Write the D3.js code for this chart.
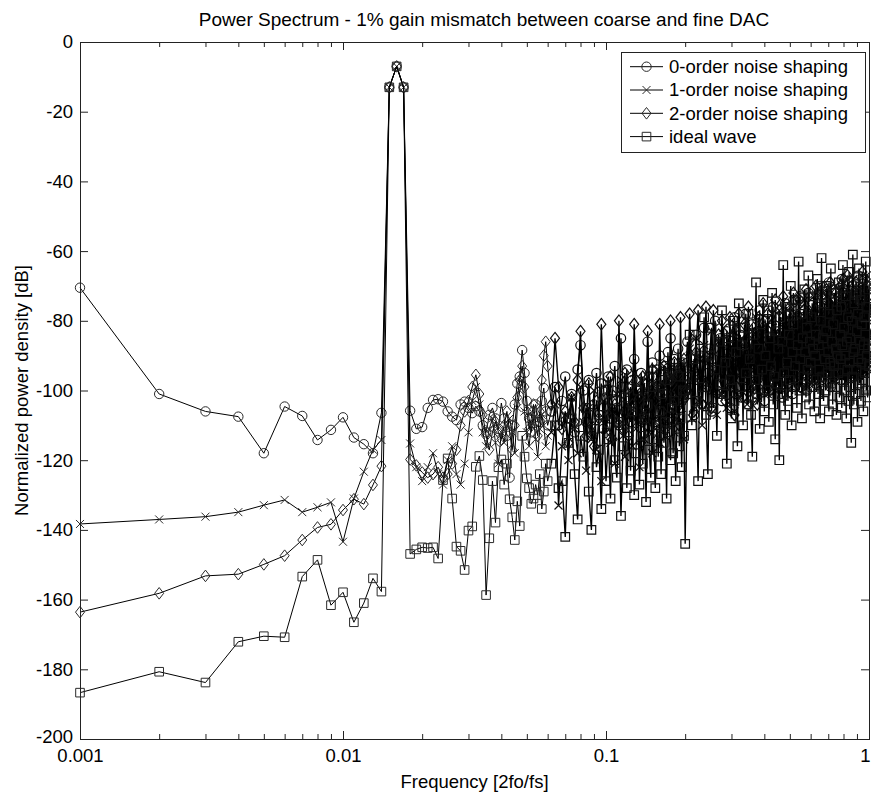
<!DOCTYPE html>
<html>
<head>
<meta charset="utf-8">
<script src="https://cdn.jsdelivr.net/npm/d3@7"></script>
<style>
body { margin: 0; background: #fff; }
svg text { font-family: "Liberation Sans", Arial, sans-serif; fill: #000; }
</style>
</head>
<body>
<svg id="chart" width="871" height="796"></svg>
<script>
// FFT bins (1 bin = 0.001 of fs/2): every bin at the low end, sparser where the plot is a solid band
const binsLow = d3.range(1, 61);
const binsMid = d3.range(62, 201, 2);
const binsHigh = d3.range(204, 1001, 4);

// 0-order noise shaping (circles)
const order0Low = [-70.5,-101,-106,-107.5,-118,-104.6,-107.3,-114.2,-111.3,-107.7,
  -113.5,-115.4,-118,-106.4,-13,-7,-13,-105.8,-111,-110.5,
  -105,-102.7,-102.5,-103.2,-106,-107.5,-108.5,-104,-103.2,-105,
  -106.5,-104.5,-106,-110,-112,-107,-105,-108,-111,-103.6,
  -108,-113,-125,-110,-104,-98,-96,-88.4,-95,-103,
  -108,-112,-106,-104,-109,-109,-103,-99.3,-106,-110];
const order0Mid = [-106,-99,-110,-103,-96,-108,-101,-112,-94,-87,
  -100,-109,-97,-113,-104,-95,-107,-98,-111,-102,
  -96,-108,-100,-93,-105,-110,-85,-99,-106,-94,
  -103,-109,-97,-91,-104,-100,-108,-95,-102,-98,
  -107,-86,-96,-104,-92,-101,-109,-94,-99,-90,
  -103,-97,-106,-93,-100,-89,-98,-85,-104,-95,
  -91,-101,-96,-88,-105,-94,-99,-92,-102,-97];
const order0High = [-86,-101,-93,-107,-84,-97,-90,-104,-82,-99,
  -95,-88,-106,-91,-80,-100,-94,-85,-103,-89,
  -98,-83,-92,-105,-87,-96,-79,-101,-90,-94,
  -84,-102,-89,-97,-78,-93,-104,-86,-99,-81,
  -95,-88,-101,-83,-92,-77,-98,-90,-85,-103,
  -80,-96,-87,-93,-100,-82,-89,-76,-97,-91,
  -99,-84,-92,-79,-95,-87,-102,-81,-90,-75,
  -93,-86,-98,-78,-89,-96,-83,-101,-74,-91,
  -85,-97,-80,-92,-88,-73,-99,-84,-94,-79,
  -90,-77,-95,-86,-100,-82,-72,-93,-88,-81,
  -96,-79,-87,-91,-71,-98,-84,-89,-76,-94,
  -83,-92,-70,-88,-97,-80,-86,-93,-75,-90,
  -87,-74,-95,-81,-89,-69,-92,-85,-99,-78,
  -91,-82,-76,-96,-84,-88,-71,-93,-80,-86,
  -73,-90,-85,-79,-97,-83,-68,-91,-87,-77,
  -94,-81,-88,-72,-86,-95,-78,-84,-69,-92,
  -80,-89,-75,-93,-83,-70,-90,-86,-96,-77,
  -85,-71,-92,-82,-88,-76,-94,-67,-87,-81,
  -90,-78,-84,-95,-72,-86,-80,-93,-74,-89,
  -68,-88,-83,-76,-94,-79,-85,-70,-91,-82];

// 1-order noise shaping (crosses)
const order1Low = [-138.3,-137,-136.2,-134.9,-132.9,-131.4,-134.9,-133.5,-132.1,-143.4,
  -131,-123.3,-117,-114.2,-13,-7,-13,-115.2,-122,-126,
  -122,-118,-124,-127,-120,-116,-124,-127,-121,-112,
  -103,-99,-104,-112,-116,-111,-108,-115,-121,-112,
  -115,-110,-108,-112,-118,-105,-100,-97,-106,-112,
  -116,-110,-108,-114,-119,-111,-107,-110,-116,-113];
const order1Mid = [-112,-104,-133,-116,-107,-120,-102,-111,-118,-99,
  -109,-123,-105,-114,-100,-117,-108,-126,-103,-112,
  -98,-115,-106,-121,-101,-110,-97,-113,-119,-104,
  -108,-100,-116,-95,-111,-105,-122,-99,-107,-114,
  -102,-96,-112,-106,-118,-98,-109,-103,-94,-115,
  -100,-108,-93,-113,-104,-97,-110,-101,-96,-107,
  -112,-95,-103,-99,-109,-92,-105,-98,-114,-100];
const order1High = [-99,-88,-108,-94,-85,-103,-91,-110,-87,-97,
  -104,-90,-83,-100,-95,-107,-86,-93,-101,-82,
  -96,-105,-89,-84,-99,-92,-106,-81,-94,-88,
  -102,-85,-97,-91,-80,-104,-93,-87,-100,-83,
  -90,-98,-79,-95,-103,-86,-92,-82,-99,-88,
  -94,-81,-101,-89,-85,-97,-78,-93,-87,-100,
  -83,-96,-88,-77,-92,-99,-84,-90,-80,-95,
  -101,-86,-79,-94,-89,-76,-97,-83,-92,-88,
  -78,-93,-87,-98,-75,-90,-84,-96,-81,-89,
  -95,-82,-74,-91,-86,-99,-79,-88,-93,-77,
  -85,-97,-81,-73,-92,-87,-95,-78,-90,-83,
  -91,-76,-88,-94,-80,-72,-96,-84,-89,-79,
  -82,-93,-86,-71,-90,-78,-95,-83,-74,-92,
  -88,-75,-97,-84,-80,-91,-70,-87,-94,-79,
  -92,-83,-77,-89,-96,-73,-86,-81,-90,-69,
  -84,-95,-80,-88,-71,-93,-78,-85,-91,-76,
  -89,-72,-94,-82,-87,-79,-92,-68,-86,-83,
  -77,-90,-85,-74,-95,-81,-88,-71,-93,-80,
  -86,-94,-70,-89,-79,-84,-91,-75,-87,-82,
  -93,-73,-88,-80,-67,-90,-78,-86,-84,-76];

// 2-order noise shaping (diamonds)
const order2Low = [-163.6,-158.2,-153.2,-152.7,-149.9,-147.4,-142.9,-139.3,-138.4,-134.3,
  -131.2,-132.6,-127.1,-121.7,-13,-7,-13,-119.8,-121.5,-123.5,
  -125,-124,-122,-125,-124,-121,-117,-110,-106,-103,
  -99,-95.5,-101,-107,-113,-117,-112,-109,-112,-114,
  -110,-106,-112,-117,-110,-102,-97,-93,-99,-106,
  -111,-108,-104,-109,-113,-106,-97,-90,-86,-93];
const order2Mid = [-104,-85,-99,-111,-106,-115,-102,-109,-97,-83,
  -105,-113,-98,-110,-116,-103,-108,-81,-100,-112,
  -107,-96,-114,-104,-109,-80,-101,-111,-95,-106,
  -113,-99,-104,-81,-97,-108,-102,-115,-96,-105,
  -110,-83,-100,-107,-94,-112,-103,-98,-109,-81,
  -99,-106,-93,-111,-101,-96,-108,-80,-97,-104,
  -92,-107,-100,-95,-110,-79,-98,-103,-91,-101];
const order2High = [-100,-78,-94,-106,-89,-77,-97,-104,-91,-76,
  -99,-92,-105,-77,-88,-101,-84,-96,-80,-93,
  -103,-86,-95,-79,-99,-90,-107,-83,-92,-78,
  -97,-88,-102,-81,-94,-85,-76,-100,-89,-93,
  -82,-98,-87,-104,-79,-91,-96,-84,-75,-95,
  -89,-100,-78,-92,-86,-97,-81,-90,-94,-74,
  -96,-85,-91,-77,-99,-83,-88,-73,-93,-87,
  -80,-94,-86,-98,-76,-90,-84,-92,-72,-97,
  -88,-79,-95,-83,-91,-74,-99,-86,-81,-93,
  -77,-92,-85,-71,-96,-82,-89,-78,-94,-87,
  -91,-75,-88,-97,-80,-86,-70,-93,-84,-79,
  -85,-94,-78,-90,-73,-96,-82,-88,-76,-92,
  -89,-71,-93,-84,-79,-95,-86,-69,-91,-81,
  -74,-88,-83,-96,-77,-90,-72,-85,-94,-80,
  -92,-79,-87,-70,-93,-82,-89,-76,-84,-68,
  -86,-95,-73,-88,-81,-91,-67,-94,-78,-85,
  -90,-76,-84,-92,-71,-87,-80,-95,-74,-89,
  -82,-93,-69,-86,-79,-91,-75,-88,-83,-72,
  -94,-80,-87,-74,-90,-66,-85,-92,-77,-88,
  -81,-89,-72,-93,-78,-84,-70,-91,-86,-75];

// ideal wave (squares)
const idealLow = [-186.7,-180.7,-183.8,-172.1,-170.5,-170.8,-153.4,-148.6,-161.6,-157.9,
  -166.5,-161,-153.9,-157.7,-13,-7,-13,-146.9,-145.6,-145,
  -145.2,-145,-148.2,-125.7,-119.5,-131,-144.8,-146,-151.5,-140.2,
  -139,-121.9,-118.8,-125.7,-158.7,-142.4,-126,-137.9,-122,-119.8,
  -127,-121,-131.2,-136.4,-142.9,-131.8,-138.9,-113,-119,-125.2,
  -128,-132.5,-131,-127,-130,-124,-134,-129,-121,-126];
const idealMid = [-121,-110,-128,-126,-142,-115,-108,-124,-137,-113,
  -119,-105,-129,-140,-111,-122,-117,-134,-107,-126,
  -114,-131,-103,-120,-125,-109,-136,-116,-102,-128,
  -112,-123,-106,-130,-118,-100,-127,-113,-121,-108,
  -132,-104,-117,-125,-99,-114,-128,-110,-119,-106,
  -124,-101,-115,-109,-131,-97,-112,-120,-105,-118,
  -103,-126,-111,-96,-116,-108,-122,-100,-113,-144];
const idealHigh = [-96,-84,-110,-91,-103,-126,-88,-99,-79,-107,
  -124,-90,-82,-105,-94,-113,-86,-98,-77,-101,
  -92,-121,-85,-97,-108,-80,-103,-89,-116,-75,
  -99,-87,-110,-82,-95,-104,-78,-91,-107,-119,
  -84,-97,-69,-102,-88,-111,-81,-94,-74,-106,
  -90,-100,-77,-109,-85,-93,-72,-104,-96,-114,
  -83,-98,-88,-120,-79,-101,-86,-64,-95,-107,
  -76,-92,-103,-84,-97,-70,-110,-89,-81,-99,
  -93,-74,-105,-87,-63,-100,-91,-78,-108,-85,
  -96,-71,-89,-102,-82,-94,-67,-104,-86,-92,
  -79,-99,-88,-73,-106,-90,-84,-97,-68,-101,
  -87,-94,-108,-80,-62,-96,-85,-103,-75,-91,
  -100,-83,-70,-95,-89,-106,-78,-92,-65,-98,
  -86,-104,-81,-93,-72,-99,-88,-107,-77,-90,
  -95,-69,-102,-84,-91,-76,-105,-87,-64,-97,
  -82,-100,-90,-73,-108,-86,-94,-79,-103,-66,
  -92,-85,-99,-115,-80,-96,-61,-89,-104,-75,
  -88,-101,-72,-94,-83,-109,-78,-91,-65,-98,
  -86,-74,-103,-92,-81,-97,-68,-106,-87,-79,
  -95,-84,-63,-100,-90,-76,-102,-88,-71,-93];

const seriesNames = ["0-order noise shaping", "1-order noise shaping", "2-order noise shaping", "ideal wave"];
const seriesMarkers = ["circle", "cross", "diamond", "square"];
const yTicks = [-200, -180, -160, -140, -120, -100, -80, -60, -40, -20, 0];
const xMajor = [0.001, 0.01, 0.1, 1];

const bins = binsLow.concat(binsMid, binsHigh);
const freq = bins.map(k => k / 1000);
const seriesValues = [
  order0Low.concat(order0Mid, order0High),
  order1Low.concat(order1Mid, order1High),
  order2Low.concat(order2Mid, order2High),
  idealLow.concat(idealMid, idealHigh)
];

const svg = d3.select("#chart");
const plot = {left: 80, top: 42, right: 869, bottom: 739};
const fontSize = "18.5px";

const x = d3.scaleLog().domain([0.001, 1]).range([plot.left, plot.right]);
const y = d3.scaleLinear().domain([-200, 0]).range([plot.bottom, plot.top]);

// marker shapes
function markerPath(type) {
  const p = d3.path();
  if (type === "circle") {
    p.arc(0, 0, 4.7, 0, 2 * Math.PI);
  } else if (type === "square") {
    p.rect(-4.3, -4.3, 8.6, 8.6);
  } else if (type === "diamond") {
    p.moveTo(0, -5.8); p.lineTo(4.5, 0); p.lineTo(0, 5.8); p.lineTo(-4.5, 0); p.closePath();
  } else {
    p.moveTo(-4, -4); p.lineTo(4, 4); p.moveTo(-4, 4); p.lineTo(4, -4);
  }
  return p.toString();
}

// data: the thinned-out high bins get a heavier stroke so the band reads as solid as the original
const line = d3.line().x(d => x(d.f)).y(d => y(d.v));
const nLow = binsLow.length;
seriesValues.forEach((vals, i) => {
  const pts = vals.map((v, j) => ({f: freq[j], v: v})).filter(d => d.f !== undefined);
  const g = svg.append("g").attr("class", "series");
  g.append("path")
    .datum(pts.slice(0, nLow + 1))
    .attr("d", line)
    .attr("fill", "none")
    .attr("stroke", "#000")
    .attr("stroke-width", 1);
  g.append("path")
    .datum(pts.slice(nLow))
    .attr("d", line)
    .attr("fill", "none")
    .attr("stroke", "#000")
    .attr("stroke-width", 1.35);
  g.selectAll("path.mk")
    .data(pts)
    .enter()
    .append("path")
    .attr("class", "mk")
    .attr("transform", d => `translate(${x(d.f)},${y(d.v)})`)
    .attr("d", markerPath(seriesMarkers[i]))
    .attr("fill", "none")
    .attr("stroke", (d, j) => j < nLow ? "#2a2a2a" : "#111")
    .attr("stroke-width", (d, j) => j < nLow ? 1 : 1.2);
});

// axes (ticks inside, like the original figure)
const minor = x.ticks().filter(t => !xMajor.some(m => Math.abs(m - t) < 1e-9));

function styleAxis(sel) {
  sel.select(".domain").remove();
  sel.selectAll(".tick line").attr("stroke", "#222");
  sel.selectAll("text").style("font-size", fontSize).attr("fill", "#000");
}

const xBottom = svg.append("g")
  .attr("transform", `translate(0,${plot.bottom})`)
  .call(d3.axisBottom(x).tickValues(xMajor).tickSize(-8).tickPadding(10).tickFormat(d => String(d)))
  .call(styleAxis);
// the last label sits on the window edge: keep it inside
xBottom.selectAll(".tick text").filter(d => d === 1).attr("text-anchor", "end").attr("x", 1);

svg.append("g")
  .attr("transform", `translate(0,${plot.bottom})`)
  .call(d3.axisBottom(x).tickValues(minor).tickSize(-5).tickFormat(""))
  .call(styleAxis);
svg.append("g")
  .attr("transform", `translate(0,${plot.top})`)
  .call(d3.axisTop(x).tickValues(xMajor).tickSize(-8).tickFormat(""))
  .call(styleAxis);
svg.append("g")
  .attr("transform", `translate(0,${plot.top})`)
  .call(d3.axisTop(x).tickValues(minor).tickSize(-5).tickFormat(""))
  .call(styleAxis);
const yLeft = svg.append("g")
  .attr("transform", `translate(${plot.left},0)`)
  .call(d3.axisLeft(y).tickValues(yTicks).tickSize(-8).tickPadding(7).tickFormat(d => String(d)))
  .call(styleAxis);
// lift the bottom label a little so it clears the first frequency label
yLeft.selectAll(".tick text").filter(d => d === -200).attr("dy", "0.2em");
svg.append("g")
  .attr("transform", `translate(${plot.right},0)`)
  .call(d3.axisRight(y).tickValues(yTicks).tickSize(-8).tickFormat(""))
  .call(styleAxis);

svg.append("rect")
  .attr("x", plot.left + 0.5)
  .attr("y", plot.top + 0.5)
  .attr("width", plot.right - plot.left)
  .attr("height", plot.bottom - plot.top)
  .attr("fill", "none")
  .attr("stroke", "#222")
  .attr("stroke-width", 1);

// title and axis labels
svg.append("text")
  .attr("x", 484)
  .attr("y", 26)
  .attr("text-anchor", "middle")
  .style("font-size", "19px")
  .text("Power Spectrum - 1% gain mismatch between coarse and fine DAC");

svg.append("text")
  .attr("x", (plot.left + plot.right) / 2)
  .attr("y", 788)
  .attr("text-anchor", "middle")
  .style("font-size", fontSize)
  .text("Frequency [2fo/fs]");

svg.append("text")
  .attr("transform", `translate(28,${(plot.top + plot.bottom) / 2}) rotate(-90)`)
  .attr("text-anchor", "middle")
  .style("font-size", fontSize)
  .text("Normalized power density [dB]");

// legend
const legend = svg.append("g");
legend.append("rect")
  .attr("x", 621.5).attr("y", 52.5)
  .attr("width", 244).attr("height", 100)
  .attr("fill", "#fff").attr("stroke", "#222");
seriesNames.forEach((name, i) => {
  const ly = 66.7 + i * 23.3;
  legend.append("line")
    .attr("x1", 630).attr("x2", 663).attr("y1", ly).attr("y2", ly)
    .attr("stroke", "#000").attr("stroke-width", 1);
  legend.append("path")
    .attr("transform", `translate(646.5,${ly})`)
    .attr("d", markerPath(seriesMarkers[i]))
    .attr("fill", "none").attr("stroke", "#2a2a2a");
  legend.append("text")
    .attr("x", 669).attr("y", ly).attr("dy", "0.35em")
    .style("font-size", fontSize)
    .text(name);
});
</script>
</body>
</html>
